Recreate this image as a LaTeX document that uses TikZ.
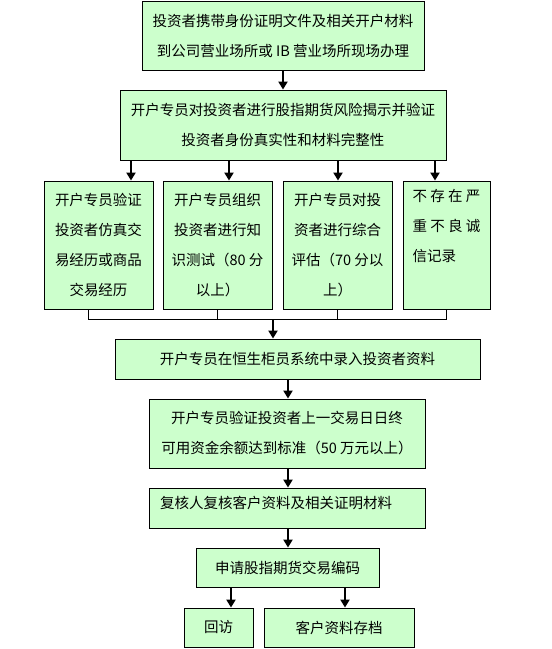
\documentclass[tikz,border=0pt]{standalone}
\usepackage{fontspec}
\newfontfamily\cjk{Noto Sans CJK SC}
\usetikzlibrary{arrows.meta}
\definecolor{boxgreen}{RGB}{204,255,204}
\begin{document}
\begin{tikzpicture}[x=1pt,y=-1pt,
  box/.style={draw=black, line width=0.9pt, fill=boxgreen, inner sep=0pt,
    font=\cjk\fontsize{14.5}{30}\selectfont, align=center},
  txt/.style={inner sep=0pt, font=\cjk\fontsize{14.5}{30}\selectfont},
  arr/.style={line width=2.4pt, -{Triangle[width=9pt,length=8pt]}},
  thinline/.style={line width=0.9pt}]
\useasboundingbox (0,0) rectangle (552,649);
\fill[white] (0,0) rectangle (552,649);

\node[box, minimum width=282pt, minimum height=69pt] (b1) at (283,35.5)
  {投资者携带身份证明文件及相关开户材料\\到公司营业场所或 IB 营业场所现场办理};
\node[box, minimum width=326pt, minimum height=70pt] (b2) at (283,125)
  {开户专员对投资者进行股指期货风险揭示并验证\\投资者身份真实性和材料完整性};

\node[box, minimum width=109pt, minimum height=128pt] (A) at (98.5,245)
  {开户专员验证\\投资者仿真交\\易经历或商品\\交易经历};
\node[box, minimum width=109pt, minimum height=128pt] (B) at (217.5,245)
  {开户专员组织\\投资者进行知\\识测试（80 分\\以上）};
\node[box, minimum width=109pt, minimum height=128pt] (C) at (337.5,245)
  {开户专员对投\\资者进行综合\\评估（70 分以\\上）};
\node[box, align=left, minimum width=87pt, minimum height=128pt] (D) at (446.5,245)
  {\makebox[68pt][s]{不\hfill 存\hfill 在\hfill 严}\\\makebox[68pt][s]{重\hfill 不\hfill 良\hfill 诚}\\\makebox[68pt][l]{信记录}\\\strut};

\node[box, minimum width=365pt, minimum height=40pt] (b3) at (297.5,359)
  {开户专员在恒生柜员系统中录入投资者资料};
\node[box, minimum width=276pt, minimum height=69pt] (b4) at (287,433.5)
  {开户专员验证投资者上一交易日日终\\可用资金余额达到标准（50 万元以上）};
\node[box, minimum width=276pt, minimum height=40pt] (b5) at (287,508) {};
\node[txt, anchor=west] (t5) at (160,503) {复核人复核客户资料及相关证明材料};
\node[box, minimum width=183pt, minimum height=39pt] (b6) at (287.5,567.5)
  {申请股指期货交易编码};
\node[box, minimum width=69pt, minimum height=39pt] (b7) at (218.5,627.5) {回访};
\node[box, minimum width=150pt, minimum height=39pt] (b8) at (339,627.5) {客户资料存档};

% helper x positions
\coordinate (x1) at (131,0);
\coordinate (x2) at (229,0);
\coordinate (x3) at (338,0);
\coordinate (x4) at (435,0);
\coordinate (xa) at (88,0);
\coordinate (xm) at (273,0);
\coordinate (xb) at (288,0);
\coordinate (x7) at (231,0);
\coordinate (x8) at (345,0);
\coordinate (bus) at (0,319);

\draw[arr] (b1.south) -- (b2.north);
\draw[arr] (b2.south -| x1) -- (A.north -| x1);
\draw[arr] (b2.south -| x2) -- (B.north -| x2);
\draw[arr] (b2.south -| x3) -- (C.north -| x3);
\draw[arr] (b2.south -| x4) -- (D.north -| x4);

\draw[thinline] (A.south -| xa) -- (bus -| xa) -- (bus -| D.south) -- (D.south);
\draw[thinline] (B.south) -- (bus -| B.south);
\draw[thinline] (C.south) -- (bus -| C.south);
\draw[arr] (bus -| xm) -- (b3.north -| xm);

\draw[arr] (b3.south -| xb) -- (b4.north -| xb);
\draw[arr] (b4.south -| xb) -- (b5.north -| xb);
\draw[arr] (b5.south -| xb) -- (b6.north -| xb);
\draw[arr] (b6.south -| x7) -- (b7.north -| x7);
\draw[arr] (b6.south -| x8) -- (b8.north -| x8);
\end{tikzpicture}
\end{document}
